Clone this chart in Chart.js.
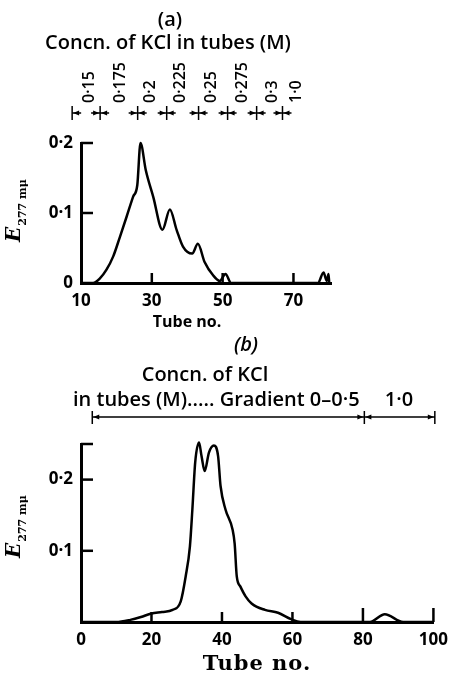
<!DOCTYPE html>
<html lang="en">
<head>
<meta charset="UTF-8">
<title>KCl elution profiles</title>
<script src="https://cdn.jsdelivr.net/npm/chart.js"></script>
<style>
  body { margin: 0; background: #fff; }
  .wrap { position: relative; width: 456px; height: 675px; }
  canvas { position: absolute; left: 0; top: 0; }
</style>
</head>
<body>
<div class="wrap">
  <canvas id="chartA" width="456" height="675"></canvas>
  <canvas id="chartB" width="456" height="675"></canvas>
</div>
<script>
// ---- (a) ----
const tubesA = [10, 13.4, 15.4, 17.2, 19.1, 21, 22.9, 24.7, 25.9, 26.8, 28.3, 30.4, 33, 35.1, 37, 38.8, 41.4, 43, 44.9, 47.3, 49.2, 50.8, 52.4, 76.9, 78.5, 79.4, 79.9, 80.1];
const absA   = [0, 0, 0.007, 0.019, 0.038, 0.066, 0.095, 0.123, 0.14, 0.2, 0.161, 0.123, 0.076, 0.105, 0.076, 0.052, 0.042, 0.056, 0.03, 0.011, 0.003, 0.013, 0, 0, 0.015, 0.003, 0.013, 0];
const xTicksA = [10, 30, 50, 70];
const yTicksA = [0, 0.1, 0.2];
const yLabelsA = ['0', '0·1', '0·2'];
const concDivA = [7.5, 15.4, 26, 34.2, 43.2, 51.4, 59.6, 66.9];
const concPosA = [12.5, 21, 29.7, 38.2, 46.9, 55.6, 64.1, 70.8];
const concLabelsA = ['0·15', '0·175', '0·2', '0·225', '0·25', '0·275', '0·3', '1·0'];

// ---- (b) ----
const tubesB = [0, 10, 14, 17, 20, 23, 26, 28.3, 29.7, 30.9, 31.6, 32.4, 33.5, 34.2, 35.1, 36.3, 37.7, 38.9, 39.6, 41, 43, 43.6, 44.2, 45.2, 46.7, 48.4, 52.2, 55.9, 59.6, 62.3, 82, 86.2, 91.4, 100];
const absB   = [0, 0, 0.003, 0.007, 0.012, 0.014, 0.017, 0.029, 0.064, 0.106, 0.158, 0.224, 0.252, 0.233, 0.212, 0.238, 0.248, 0.233, 0.191, 0.158, 0.13, 0.11, 0.064, 0.05, 0.036, 0.026, 0.017, 0.013, 0.004, 0, 0, 0.011, 0, 0];
const xTicksB = [0, 20, 40, 60, 80, 100];
const yTicksB = [0, 0.1, 0.2, 0.25];
const yLabelsB = ['', '0·1', '0·2', ''];
const concDivB = [3.2, 80.4, 100.4];

const sans = '"Open Sans", Lato, sans-serif';
const serif = '"DejaVu Serif", "Liberation Serif", serif';

function pts(xs, ys) {
  return xs.map((x, i) => ({ x: x, y: ys[i] }));
}

function arrowHead(ctx, x, y, dir) {
  // dir = 1 points right, -1 points left
  ctx.beginPath();
  ctx.moveTo(x, y);
  ctx.lineTo(x - dir * 6, y - 2.5);
  ctx.lineTo(x - dir * 6, y + 2.5);
  ctx.closePath();
  ctx.fill();
}

function yLabel(ctx, x, y) {
  // italic E with subscript, rotated
  ctx.save();
  ctx.translate(x, y);
  ctx.rotate(-Math.PI / 2);
  ctx.fillStyle = '#000';
  ctx.textAlign = 'left';
  ctx.textBaseline = 'alphabetic';
  ctx.font = 'italic bold 20px ' + serif;
  ctx.fillText('E', 0, 0);
  const w = ctx.measureText('E').width;
  ctx.font = 'bold 11px ' + serif;
  ctx.fillText('277 mμ', w + 1, 6);
  ctx.restore();
}

function inwardTicks(chart, xVals, xLens, yVals) {
  const ctx = chart.ctx;
  const xs = chart.scales.x, ys = chart.scales.y;
  const a = chart.chartArea;
  ctx.save();
  ctx.strokeStyle = '#000';
  ctx.lineWidth = 2.5;
  xVals.forEach((v, i) => {
    const px = xs.getPixelForValue(v);
    ctx.beginPath();
    ctx.moveTo(px, a.bottom);
    ctx.lineTo(px, a.bottom - xLens[i]);
    ctx.stroke();
  });
  yVals.forEach(v => {
    const py = ys.getPixelForValue(v);
    ctx.beginPath();
    ctx.moveTo(a.left, py);
    ctx.lineTo(a.left + 12, py);
    ctx.stroke();
  });
  ctx.restore();
}

const decorA = {
  id: 'decorA',
  afterDraw(chart) {
    const ctx = chart.ctx;
    const xs = chart.scales.x;
    inwardTicks(chart, [30, 50, 70], [10, 10, 10], [0.1, 0.2]);
    ctx.save();
    ctx.fillStyle = '#000';
    ctx.strokeStyle = '#000';
    ctx.textAlign = 'center';
    ctx.textBaseline = 'middle';
    ctx.font = '600 20px ' + sans;
    ctx.fillText('(a)', 170, 20);
    ctx.fillText('Concn. of KCl in tubes (M)', 168, 43);
    ctx.font = 'bold 16px ' + sans;
    ctx.fillText('Tube no.', 187, 322);
    // division markers
    const my = 113;
    ctx.lineWidth = 1.5;
    concDivA.forEach((v, i) => {
      const px = xs.getPixelForValue(v);
      ctx.beginPath();
      ctx.moveTo(px, my - 7);
      ctx.lineTo(px, my + 7);
      ctx.stroke();
      ctx.beginPath();
      ctx.moveTo(px, my);
      ctx.lineTo(px + 9, my);
      if (i > 0) { ctx.moveTo(px - 9, my); ctx.lineTo(px, my); }
      ctx.stroke();
      arrowHead(ctx, px + 1, my, -1);
      if (i > 0) arrowHead(ctx, px - 1, my, 1);
    });
    // rotated concentration labels, reading upward from y = 103
    ctx.font = '600 16px ' + sans;
    ctx.textAlign = 'left';
    concPosA.forEach((v, i) => {
      const px = xs.getPixelForValue(v);
      ctx.save();
      ctx.translate(px, 103);
      ctx.rotate(-Math.PI / 2);
      ctx.fillText(concLabelsA[i], 0, 0);
      ctx.restore();
    });
    ctx.restore();
    yLabel(ctx, 20, 242);
  }
};

const decorB = {
  id: 'decorB',
  afterDraw(chart) {
    const ctx = chart.ctx;
    const xs = chart.scales.x;
    inwardTicks(chart, [20, 40, 60, 80, 100], [10, 10, 10, 14, 14], [0.1, 0.2, 0.25]);
    ctx.save();
    ctx.fillStyle = '#000';
    ctx.strokeStyle = '#000';
    ctx.textAlign = 'center';
    ctx.textBaseline = 'middle';
    ctx.font = 'italic 600 20px ' + sans;
    ctx.fillText('(b)', 246, 345);
    ctx.font = '600 20px ' + sans;
    ctx.fillText('Concn. of KCl', 205, 375);
    ctx.textAlign = 'left';
    ctx.fillText('in tubes (M)..... Gradient 0–0·5', 73, 400);
    ctx.textAlign = 'center';
    ctx.fillText('1·0', 399, 400);
    // axis title in a wide serif
    ctx.font = 'bold 21px ' + serif;
    ctx.letterSpacing = '1px';
    ctx.fillText('Tube no.', 257, 665);
    ctx.letterSpacing = '0px';
    // range arrows
    const my = 417;
    const p = concDivB.map(v => xs.getPixelForValue(v));
    ctx.lineWidth = 1.5;
    ctx.beginPath();
    ctx.moveTo(p[0], my);
    ctx.lineTo(p[2], my);
    p.forEach(px => { ctx.moveTo(px, my - 6); ctx.lineTo(px, my + 7); });
    ctx.stroke();
    arrowHead(ctx, p[0] + 1, my, -1);
    arrowHead(ctx, p[1] - 1, my, 1);
    arrowHead(ctx, p[1] + 1, my, -1);
    arrowHead(ctx, p[2] - 1, my, 1);
    ctx.restore();
    yLabel(ctx, 20, 558);
  }
};

function makeChart(id, tubes, abs, xMin, xMax, xTicks, yMax, yTicks, yLabels, pad, plugin) {
  return new Chart(document.getElementById(id), {
    type: 'line',
    data: {
      datasets: [{
        data: pts(tubes, abs),
        borderColor: '#000',
        borderWidth: 2.5,
        pointRadius: 0,
        fill: false,
        cubicInterpolationMode: 'monotone',
        clip: false
      }]
    },
    options: {
      responsive: false,
      animation: false,
      layout: { padding: pad },
      plugins: { legend: { display: false }, tooltip: { enabled: false } },
      scales: {
        x: {
          type: 'linear',
          min: xMin,
          max: xMax,
          afterBuildTicks: s => { s.ticks = xTicks.map(v => ({ value: v })); },
          afterFit: s => { s.height = 40; },
          grid: { display: false, drawTicks: false },
          border: { display: true, color: '#000', width: 3 },
          ticks: { color: '#000', padding: 8, maxRotation: 0, font: { family: sans, size: 17, weight: 'bold' } }
        },
        y: {
          min: 0,
          max: yMax,
          afterBuildTicks: s => { s.ticks = yTicks.map(v => ({ value: v })); },
          afterFit: s => { s.width = 81; },
          grid: { display: false, drawTicks: false },
          border: { display: true, color: '#000', width: 3 },
          ticks: {
            color: '#000', padding: 8,
            font: { family: sans, size: 17, weight: 'bold' },
            callback: (v, i) => yLabels[i]
          }
        }
      }
    },
    plugins: [plugin]
  });
}

// chart areas: (a) x 81..331, y 143..283 ; (b) x 81..438, y 444..622
makeChart('chartA', tubesA, absA, 10, 80.6, xTicksA, 0.2, yTicksA, yLabelsA,
  { left: 0, top: 143, right: 125, bottom: 352 }, decorA);

makeChart('chartB', tubesB, absB, 0, 100, xTicksB, 0.25, yTicksB, yLabelsB,
  { left: 0, top: 444, right: 18, bottom: 13 }, decorB);
</script>
</body>
</html>
